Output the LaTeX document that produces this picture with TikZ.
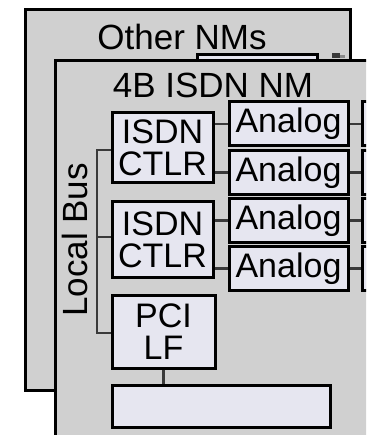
\documentclass[tikz,border=0pt]{standalone}
\usepackage{fontspec}
\setmainfont{Liberation Sans}
\tikzset{
  panel/.style={draw=black, line width=3pt, fill=panelgray},
  blk/.style={draw=black, line width=3pt, fill=boxfill, inner sep=0pt, align=center, font=\fontsize{34}{32}\selectfont},
  conn/.style={draw=wiregray, line width=2.6pt},
}
\definecolor{panelgray}{HTML}{D0D0D0}
\definecolor{boxfill}{HTML}{E6E6F0}
\definecolor{wiregray}{HTML}{3A3A3A}
\begin{document}
\begin{tikzpicture}[x=1pt, y=-1pt]
\useasboundingbox (0,0) rectangle (366,435);
\begin{scope}
\clip (0,0) rectangle (366,435);
% back panel
\draw[panel] (25,10) rectangle (350,390);
\node[font=\fontsize{35}{35}\selectfont] (other) at (182,37) {Other NMs};
\draw[draw=black, line width=3pt, fill=boxfill] (197,55) rectangle (317,80);
\fill[wiregray] (332,53) rectangle (340,58);
\fill[wiregray!60] (340,55) rectangle (345,58);
% front panel
\draw[panel] (55,60.5) rectangle (390,460);
\node[font=\fontsize{35}{35}\selectfont] (nm) at (213,85) {4B ISDN NM};
% ISDN controllers
\node[blk, minimum width=101pt, minimum height=70pt] (c1) at (162.5,148) {ISDN\\CTLR};
\node[blk, minimum width=101pt, minimum height=75pt] (c2) at (162.5,239.5) {ISDN\\CTLR};
\node[blk, minimum width=103pt, minimum height=73pt] (pci) at (163.5,331.5) {PCI\\LF};
\node[blk, minimum width=218pt, minimum height=42pt] (bot) at (221,406) {};
% analog boxes
\foreach \i/\y in {1/124,2/172.5,3/220.5,4/268.5}{
  \node[blk, minimum width=119pt, minimum height=44pt] (a\i) at (288.5,\y) {Analog};
  \node[blk, minimum width=40pt, minimum height=44pt, anchor=west] (r\i) at (361,\y) {};
}
% connectors
\foreach \i in {1,2,3,4}{ \draw[conn] (a\i.east) -- (r\i.west); }
\draw[conn] (c1.east |- a1.west) -- (a1.west);
\draw[conn] (c1.east |- a2.west) -- (a2.west);
\draw[conn] (c2.east |- a3.west) -- (a3.west);
\draw[conn] (c2.east |- a4.west) -- (a4.west);
\coordinate (bt) at (97,150);
\coordinate (bb) at (97,333);
\coordinate (bm) at (97,237);
\draw[conn] (c1.west |- bt) -- (bt) -- (bb) -- (pci.west |- bb);
\draw[conn] (bm) -- (c2.west |- bm);
\draw[conn] (pci.south) -- (pci.south |- bot.north);
\node[rotate=90, font=\fontsize{35}{35}\selectfont] (lbus) at (75,240) {Local Bus};
\end{scope}
\end{tikzpicture}
\end{document}
